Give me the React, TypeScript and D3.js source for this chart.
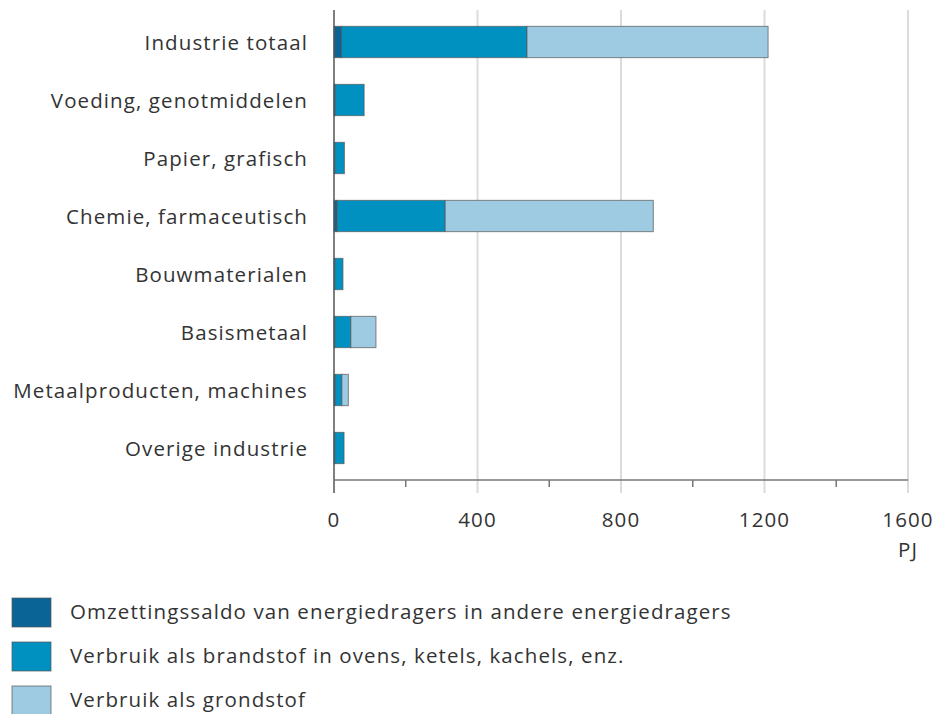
import React from "react";
import * as d3 from "d3";

const categories = [
  "Industrie totaal",
  "Voeding, genotmiddelen",
  "Papier, grafisch",
  "Chemie, farmaceutisch",
  "Bouwmaterialen",
  "Basismetaal",
  "Metaalproducten, machines",
  "Overige industrie",
];
const omzetting = [21, 3, 2, 9, 2, 2, 3, 2];
const brandstof = [517, 81, 27, 301, 23, 45, 19, 26];
const grondstof = [672, 0, 0, 580, 0, 70, 18, 0];
const seriesNames = [
  "Omzettingssaldo van energiedragers in andere energiedragers",
  "Verbruik als brandstof in ovens, ketels, kachels, enz.",
  "Verbruik als grondstof",
];
const colors = ["#0b6496", "#0091c0", "#9ecbe2"];
const majorTicks = [0, 400, 800, 1200, 1600];
const minorTicks = [200, 600, 1000, 1400];

export default function App() {
  const W = 934, H = 714;
  const x = d3.scaleLinear().domain([0, 1600]).range([334, 908]);
  const y = d3.scaleBand().domain(categories).range([13, 477]).paddingInner(0.46).paddingOuter(0.23);
  const rows = categories.map((c, i) => ({ c, vals: [omzetting[i], brandstof[i], grondstof[i]] }));
  const font = "'Open Sans', sans-serif";
  const axisY = 480;
  const fs = 20.5;
  const ls = 1.1;
  return (
    <svg width={W} height={H} style={{ position: "absolute", left: 0, top: 0, background: "#fff" }} fontFamily={font}>
      {majorTicks.slice(1).map((t) => (
        <line key={t} x1={x(t)} x2={x(t)} y1={10} y2={axisY + 13} stroke="#dcdcdc" strokeWidth={2} />
      ))}
      {rows.map((r) => {
        let acc = 0;
        return (
          <g key={r.c}>
            {r.vals.map((v, k) => {
              const x0 = acc;
              acc += v;
              if (v <= 0) return null;
              return (
                <rect key={k} x={x(x0)} y={y(r.c)} width={x(acc) - x(x0)} height={y.bandwidth()}
                  fill={colors[k]} stroke="#555" strokeWidth={1} strokeOpacity={0.7} />
              );
            })}
            <text x={308} y={y(r.c)! + y.bandwidth() / 2} textAnchor="end" dominantBaseline="central"
              fontSize={fs} letterSpacing={ls} fill="#333">{r.c}</text>
          </g>
        );
      })}
      <line x1={x(0)} x2={x(0)} y1={10} y2={axisY + 13} stroke="#555" strokeWidth={1.5} />
      <line x1={x(0)} x2={x(1600)} y1={axisY} y2={axisY} stroke="#777" strokeWidth={1.5} />
      {majorTicks.map((t) => (
        <text key={t} x={x(t)} y={519} textAnchor="middle" dominantBaseline="central" fontSize={fs} letterSpacing={ls} fill="#333">{t}</text>
      ))}
      {minorTicks.map((t) => (
        <line key={t} x1={x(t)} x2={x(t)} y1={axisY} y2={axisY + 7} stroke="#777" strokeWidth={1.5} />
      ))}
      <text x={x(1600)} y={549} textAnchor="middle" dominantBaseline="central" fontSize={fs} letterSpacing={ls} fill="#333">PJ</text>
      {seriesNames.map((s, i) => (
        <g key={s}>
          <rect x={12} y={598 + i * 44} width={39} height={29} fill={colors[i]} stroke="#555" strokeWidth={1} strokeOpacity={0.7} />
          <text x={70} y={611 + i * 44} dominantBaseline="central" fontSize={fs} letterSpacing={ls} fill="#333">{s}</text>
        </g>
      ))}
    </svg>
  );
}
